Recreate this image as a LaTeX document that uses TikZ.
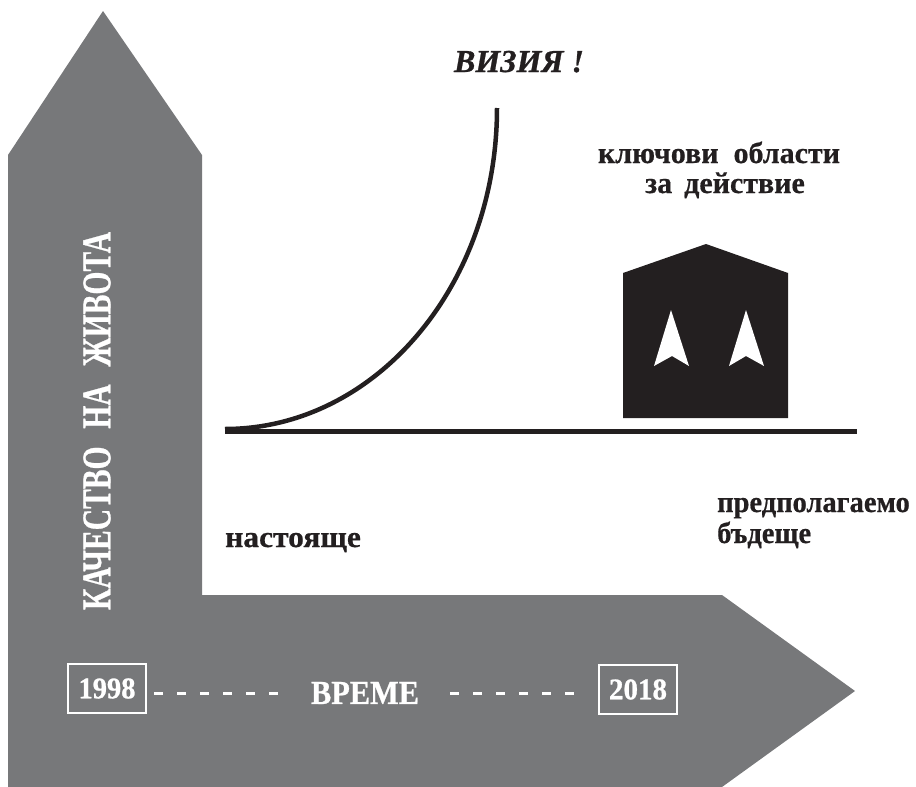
\documentclass[tikz,border=0pt]{standalone}
\usepackage{fontspec}
\setmainfont{Liberation Serif}
\newfontfamily\bgfont[Script=Cyrillic,Language=Bulgarian,FakeBold=0.6]{Liberation Serif}
\newfontfamily\heavyfont[FakeBold=0.8]{Liberation Serif}
\definecolor{arrowgray}{RGB}{119,120,122}
\definecolor{ink}{RGB}{35,31,32}
\tikzset{
  lbl/.style={inner sep=0pt, text=ink, font=\fontsize{30}{30}\selectfont\bgfont\bfseries},
  wtxt/.style={inner sep=0pt, text=white, font=\heavyfont\bfseries},
  yearbox/.style={draw=white, line width=2pt, minimum width=78pt, minimum height=49pt, inner sep=0pt, text=white, font=\heavyfont\bfseries},
  dashline/.style={white, line width=3pt, dash pattern=on 9pt off 14pt},
  thickline/.style={ink, line width=5pt},
  curveline/.style={ink, line width=4.5pt}
}
\begin{document}
\begin{tikzpicture}[x=1pt,y=-1pt]
\useasboundingbox (0,0) rectangle (916,787);
% grey L-shaped arrow
\fill[arrowgray] (103,11) -- (202,155) -- (202,595) -- (722,595) -- (855,691)
  -- (722,787) -- (8,787) -- (8,155) -- cycle;
% vertical axis label
\node[wtxt, rotate=90] (quality) at (97,421)
  {\resizebox{378pt}{27pt}{КАЧЕСТВО\hspace{0.6em}НА\hspace{0.6em}ЖИВОТА}};
% time axis
\node[yearbox] (y1998) at (107,688.5) {\resizebox{57pt}{20pt}{1998}};
\node[yearbox] (y2018) at (638,689.5) {\resizebox{58pt}{20pt}{2018}};
\node[wtxt] (vreme) at (365,693) {\resizebox{108pt}{22pt}{ВРЕМЕ}};
\draw[dashline, shorten <=7pt, shorten >=33pt] (y1998.east |- vreme.west) -- (vreme.west);
\draw[dashline, shorten <=31pt, shorten >=22pt] (vreme.east) -- (y2018.west |- vreme.east);
% baseline and vision curve
\coordinate (start) at (225,429);
\coordinate (top) at (497,108);
\coordinate (lineend) at (857,431);
\draw[thickline] (225,431) -- (lineend);
\draw[curveline] (start) .. controls (375,429) and (497,286) .. (top);
% house with arrows
\fill[ink] (623,273) -- (706,244) -- (788,273) -- (788,418) -- (623,418) -- cycle;
\fill[white] (671,310) -- (689,366) -- (672,356) -- (654,366) -- cycle;
\fill[white] (746,310) -- (764,366) -- (746,356) -- (729,366) -- cycle;
% texts
\node[inner sep=0pt, text=ink, anchor=base, font=\fontsize{32}{32}\selectfont\heavyfont\bfseries\itshape] (visia) at (519,72) {ВИЗИЯ !};
\node[lbl, anchor=base] (kl1) at (719,163) {ключови\hspace{0.5em}области};
\node[lbl, anchor=base] (kl2) at (725,193) {за\hspace{0.4em}действие};
\node[lbl, anchor=base west] (nast) at (225,547) {\scalebox{1.05}[1]{настояще}};
\node[lbl, anchor=base west] (pred1) at (717,512) {\scalebox{0.95}[1]{предполагаемо}};
\node[lbl, anchor=base west] (pred2) at (717,543) {\scalebox{0.95}[1]{бъдеще}};
\end{tikzpicture}
\end{document}
